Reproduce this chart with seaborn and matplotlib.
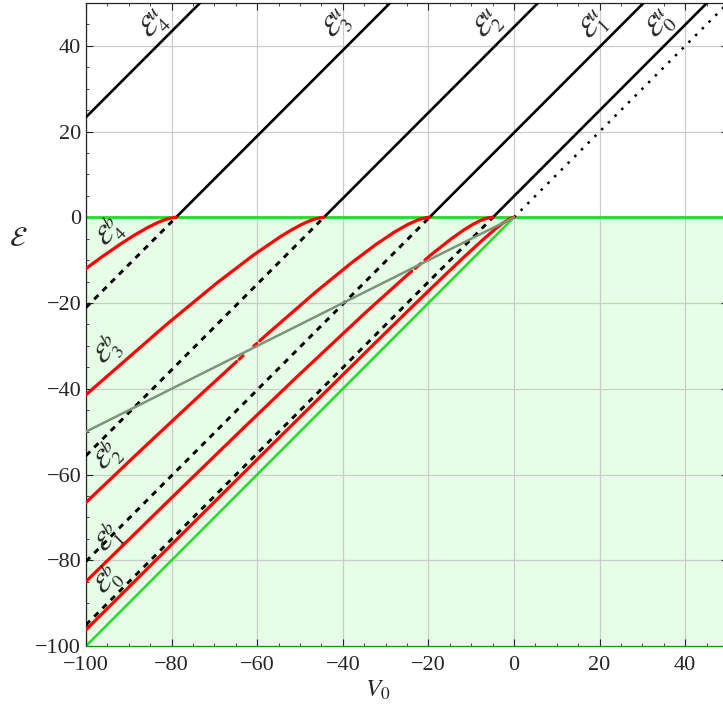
import numpy as np
import pandas as pd
import seaborn as sns
import matplotlib
matplotlib.use('Agg')
import matplotlib.pyplot as plt

# offsets of the E^u lines (E = V0 + c)
u_offsets = [4.93, 19.74, 44.41, 78.96, 123.37]

# bound state curves E_n^b(V0)
# each entry is a list of pieces (the curves have small breaks where they meet the grey line)
b0_v = [-100, -94.36, -84.49, -62.21, -47.24, -31.43, -21.93, -15.85, -11.76, -6.85, -4.19, -2.64, -1.06, -0.38, -0.08, 0]
b0_e = [-96.22, -90.61, -80.79, -58.67, -43.86, -28.31, -19.05, -13.21, -9.34, -4.85, -2.57, -1.36, -0.34, -0.06, -0.003, 0]

b1_v = [[-100, -79.82, -63.03, -50.88, -34.90, -25.25, -23.9],
        [-23.1, -21.8],
        [-20.8, -19.03, -14.81, -11.84, -9.68, -8.06, -6.83, -5.88, -5.12, -4.93]]
b1_e = [[-84.96, -65.24, -48.98, -37.36, -22.40, -13.73, -12.58],
        [-11.90, -10.80],
        [-9.95, -8.45, -5.13, -3.02, -1.68, -0.84, -0.35, -0.10, -0.004, 0]]

b2_v = [[-100, -86.83, -74.91, -65.40, -64.8],
        [-64.2, -63.3],
        [-60.8, -60.1],
        [-59.4, -57.71, -46.16, -38.07, -32.23, -27.94, -24.74, -22.34, -20.55, -19.74]]
b2_e = [[-66.49, -54.02, -42.91, -34.19, -33.65],
        [-33.11, -32.30],
        [-30.06, -29.43],
        [-28.80, -27.29, -17.28, -10.69, -6.31, -3.44, -1.62, -0.56, -0.07, 0]]

b3_v = [-100, -97.65, -81.11, -69.29, -60.69, -54.38, -51.89, -49.74, -47.96, -46.44, -45.19, -44.41]
b3_e = [-41.4, -39.33, -24.93, -15.21, -8.67, -4.38, -2.88, -1.72, -0.91, -0.36, -0.07, 0]

b4_v = [-100, -96.49, -92.22, -88.60, -85.56, -83.05, -81.01, -79.40, -78.96]
b4_e = [-11.95, -9.37, -6.41, -4.10, -2.36, -1.13, -0.36, -0.02, 0]

# label positions (V0, E)
u_label_pos = [(34.4, 44.6), (18.8, 44.6), (-5.9, 44.6), (-41.2, 44.6), (-84.0, 44.8)]
b_label_pos = [(-95.1, -84.8), (-95.0, -75.0), (-95.1, -55.8), (-95.1, -31.0), (-94.6, -3.6)]

sns.set_style("ticks")
plt.rcParams['font.family'] = ['Liberation Serif', 'DejaVu Serif']
plt.rcParams['mathtext.fontset'] = 'stix'

fig = plt.figure(figsize=(7.23, 7.11), dpi=100)
ax = fig.add_axes([86 / 723, 65 / 711, 642 / 723, 643 / 711])

xmin, xmax = -100, 50
ymin, ymax = -100, 50

# shaded bound region and green borders
ax.axhspan(ymin, 0, color='#e6fde6', zorder=0, lw=0)
green = '#22dd22'
ax.plot([xmin, xmax], [0, 0], color=green, lw=2, zorder=2)
ax.plot([xmin, 0], [xmin, 0], color=green, lw=1.8, zorder=2)

# free line E = V0 above zero
ax.plot([0, xmax], [0, xmax], color='black', lw=1.8, ls=(0, (1, 2.8)), zorder=2)

# E^u lines (solid above 0, dashed continuation below)
for c in u_offsets:
    x0 = -c
    x_start = max(xmin, x0)
    ax.plot([x_start, xmax - c], [x_start + c, ymax], color='black', lw=1.9, zorder=3)
    if x0 > xmin:
        ax.plot([xmin, x0], [xmin + c, 0], color='black', lw=2.1, ls=(0, (2, 2)), zorder=3)

# grey line E = V0/2
ax.plot([xmin, 0], [xmin / 2, 0], color='#7b957b', lw=1.8, zorder=5)

# bound states
red_kw = dict(color='red', lw=2.3, sort=False, estimator=None, ax=ax, zorder=4)
sns.lineplot(x=b0_v, y=b0_e, **red_kw)
for v, e in zip(b1_v, b1_e):
    sns.lineplot(x=v, y=e, **red_kw)
for v, e in zip(b2_v, b2_e):
    sns.lineplot(x=v, y=e, **red_kw)
sns.lineplot(x=b3_v, y=b3_e, **red_kw)
sns.lineplot(x=b4_v, y=b4_e, **red_kw)

# labels along the lines
for n, (x, y) in enumerate(u_label_pos):
    ax.text(x, y, r'$\mathcal{E}^{u}_{%d}$' % n, rotation=45, ha='center', va='center',
            fontsize=20, zorder=6)
for n, (x, y) in enumerate(b_label_pos):
    ax.text(x, y, r'$\mathcal{E}^{b}_{%d}$' % n, rotation=45, ha='center', va='center',
            fontsize=19, zorder=6)

ax.set_xlim(xmin, xmax)
ax.set_ylim(ymin, ymax)
ax.set_xticks(np.arange(-100, 41, 20))
ax.set_yticks(np.arange(-100, 41, 20))
ax.set_xticks(np.arange(-100, 51, 5), minor=True)
ax.set_yticks(np.arange(-100, 51, 5), minor=True)
ax.tick_params(which='both', direction='in', top=True, right=True, labelsize=16)
ax.tick_params(axis='x', which='major', pad=7)
ax.tick_params(which='major', length=5, width=0.8)
ax.tick_params(which='minor', length=2.5, width=0.6)
ax.grid(True, which='major', color='#cccccc', lw=0.9)
ax.set_axisbelow(True)
for s in ax.spines.values():
    s.set_linewidth(0.9)
ax.spines['bottom'].set_color('#1f8f1f')
ax.set_xlabel('')
ax.set_ylabel('')

fig.text(18 / 723, 1 - 240 / 711, r'$\mathcal{E}$', fontsize=20, ha='center', va='center')
fig.text(378 / 723, 1 - 690 / 711, r'$V_0$', fontsize=18, ha='center', va='center')

fig.savefig('out.png', dpi=100)
